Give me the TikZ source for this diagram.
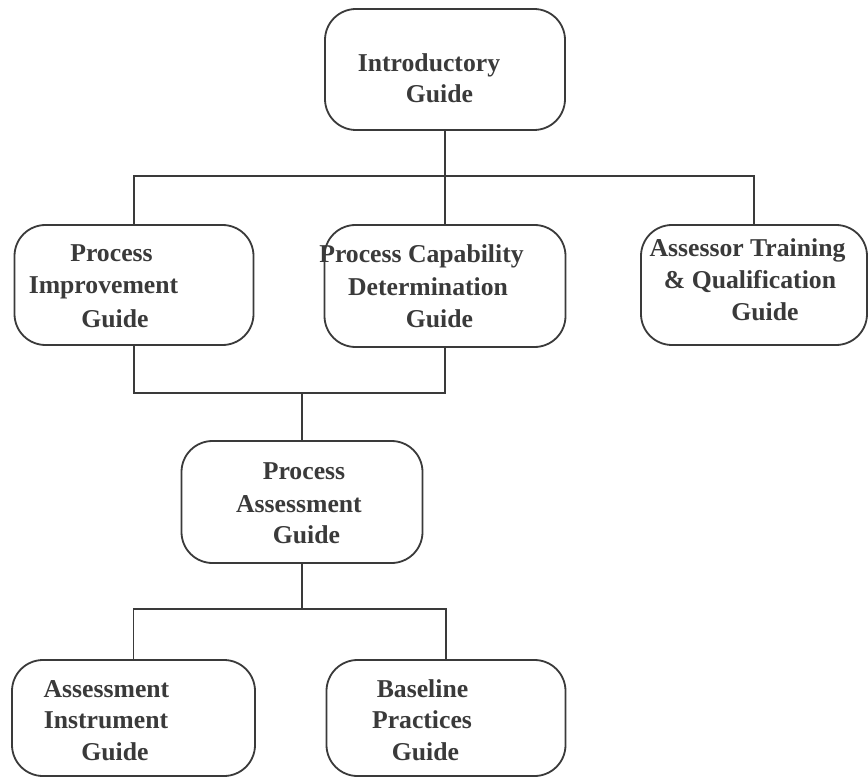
\documentclass[tikz,border=0pt]{standalone}
\usepackage{fontspec}
\setmainfont{Liberation Serif}
\begin{document}
\begin{tikzpicture}[x=1pt,y=-1pt,
  guidebox/.style={draw=ink,line width=1.8pt,rounded corners=31pt,
    inner sep=0pt,fill=white},
  link/.style={draw=ink,line width=1.8pt},
  txt/.style={anchor=base,inner sep=0pt,text=ink,
    font=\fontsize{25.7}{31.5}\selectfont\bfseries}]
\definecolor{ink}{HTML}{3A3A3A}
\useasboundingbox[fill=white] (0,0) rectangle (868,778);

% boxes
\node[guidebox,minimum width=240pt,minimum height=121pt] (intro) at (445,69.5) {};
\node[guidebox,minimum width=239pt,minimum height=120pt] (pi) at (134,285) {};
\node[guidebox,minimum width=241pt,minimum height=122pt] (pcd) at (445,286) {};
\node[guidebox,minimum width=226pt,minimum height=120pt] (atq) at (754,285) {};
\node[guidebox,minimum width=241pt,minimum height=122pt] (pa) at (302,502) {};
\node[guidebox,minimum width=243pt,minimum height=116pt] (ai) at (133.5,718) {};
\node[guidebox,minimum width=239pt,minimum height=116pt] (bp) at (446,718) {};

% junction levels
\coordinate (bus1) at (0,176);
\coordinate (bus2) at (0,393);
\coordinate (bus3) at (0,609);

% connectors
\draw[link] (intro.south) -- (pcd.north);
\draw[link] (pi.north) -- (pi.north |- bus1) -- (atq.north |- bus1) -- (atq.north);
\draw[link] (pi.south) -- (pi.south |- bus2) -- (pcd.south |- bus2) -- (pcd.south);
\draw[link] (pa.north) -- (pa.north |- bus2);
\draw[link] (pa.south) -- (pa.south |- bus3);
\draw[link] (ai.north) -- (ai.north |- bus3) -- (bp.north |- bus3) -- (bp.north);

% labels
\node[txt] (intro1) at (429,72) {Introductory};
\node[txt] (intro2) at (439.5,103) {Guide};

\node[txt] (pi1) at (111.5,262) {Process};
\node[txt] (pi2) at (103.5,294) {Improvement};
\node[txt] (pi3) at (115,327) {Guide};

\node[txt] (pcd1) at (421.5,263) {Process Capability};
\node[txt] (pcd2) at (428,295) {Determination};
\node[txt] (pcd3) at (439.5,327) {Guide};

\node[txt] (atq1) at (747.5,257) {Assessor Training};
\node[txt] (atq2) at (750,288) {\& Qualification};
\node[txt] (atq3) at (765,320) {Guide};

\node[txt] (pa1) at (304,479) {Process};
\node[txt] (pa2) at (299,512) {Assessment};
\node[txt] (pa3) at (306.5,543) {Guide};

\node[txt] (ai1) at (106.5,697) {Assessment};
\node[txt] (ai2) at (106,728) {Instrument};
\node[txt] (ai3) at (115,760) {Guide};

\node[txt] (bp1) at (422.5,697) {Baseline};
\node[txt] (bp2) at (422,728) {Practices};
\node[txt] (bp3) at (425.5,760) {Guide};
\end{tikzpicture}
\end{document}
